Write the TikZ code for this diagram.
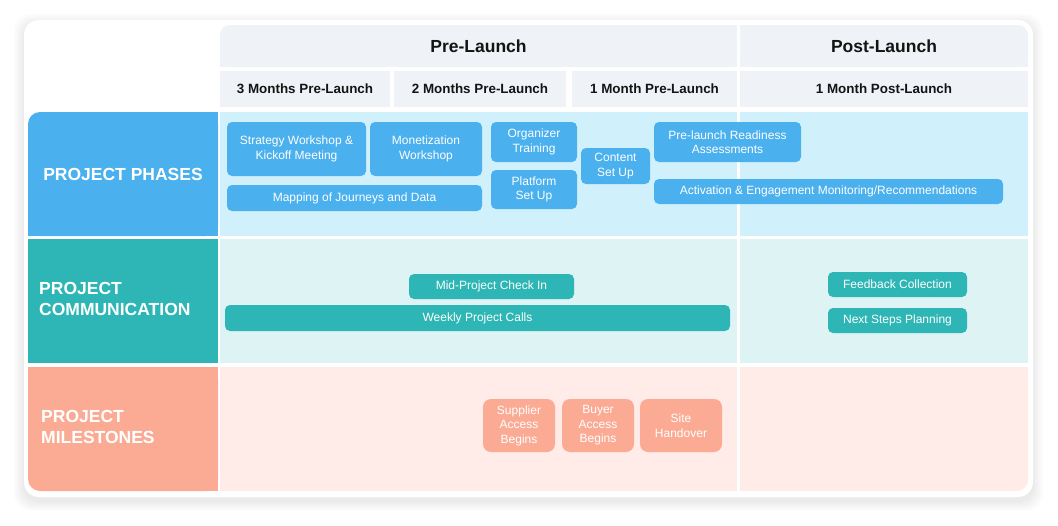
\documentclass[tikz,border=0pt]{standalone}
\usepackage{fontspec}
\setmainfont{Liberation Sans}
\definecolor{headbg}{RGB}{239,243,247}
\definecolor{phaseblue}{RGB}{74,176,238}
\definecolor{phasebg}{RGB}{208,241,251}
\definecolor{commteal}{RGB}{45,182,181}
\definecolor{commbg}{RGB}{222,243,244}
\definecolor{mileorange}{RGB}{251,170,148}
\definecolor{milebg}{RGB}{255,236,232}
\definecolor{headtext}{RGB}{20,20,20}
\begin{document}
\begin{tikzpicture}[x=1pt, y=-1pt,
		task/.style={rounded corners=5pt, inner sep=0pt, text=white, align=center, font=\fontsize{12}{14.5}\selectfont},
		rowlabel/.style={text=white, inner sep=0pt, align=left, font=\fontsize{17.5}{21}\selectfont\bfseries},
		period/.style={text=headtext, inner sep=0pt, font=\fontsize{17.5}{21}\selectfont\bfseries},
		month/.style={text=headtext, inner sep=0pt, font=\fontsize{13.4}{16}\selectfont\bfseries}]
		\useasboundingbox (0,0) rectangle (1058,525);
		\foreach \s in {1,...,10}
		{
			\fill[black, opacity=0.008, rounded corners=16pt] (24-\s, 24-\s) rectangle (1033+\s, 501+\s);
		}
		\fill[white, rounded corners=15pt] (24,20) rectangle (1033,497);
		
		\fill[headbg, rounded corners=10pt] (220,25) rectangle (737,67);
		\fill[headbg] (240,25) rectangle (737,67);
		\fill[headbg] (220,45) rectangle (737,67);
		\fill[headbg, rounded corners=10pt] (740,25) rectangle (1028,67);
		\fill[headbg] (740,25) rectangle (1008,67);
		\fill[headbg] (740,45) rectangle (1028,67);
		\node[period] (pre) at (478.5,46) {Pre-Launch};
		\node[period] (post) at (884,46) {Post-Launch};
		\foreach \a/\b/\nm/\txt in {220/390/m3/3 Months Pre-Launch, 394/566/m2/2 Months Pre-Launch, 572/737/m1/1 Month Pre-Launch, 740/1028/p1/1 Month Post-Launch}
		{
			\fill[headbg] (\a,71) rectangle (\b,107);
			\node[month] (\nm) at ({(\a+\b)/2},89) {\txt};
		}
		
		\foreach \t/\b/\bg in {112/236/phasebg, 239/363/commbg}
		{
			\fill[\bg] (220,\t) rectangle (737,\b);
			\fill[\bg] (740,\t) rectangle (1028,\b);
		}
		\fill[milebg] (220,367) rectangle (737,491);
		\fill[milebg, rounded corners=11pt] (740,367) rectangle (1028,491);
		\fill[milebg] (740,367) rectangle (1008,491);
		\fill[milebg] (740,367) rectangle (1028,470);
		
		\fill[phaseblue, rounded corners=12pt] (28,112) rectangle (218,236);
		\fill[phaseblue] (50,112) rectangle (218,236);
		\fill[phaseblue] (28,135) rectangle (218,236);
		\fill[commteal] (28,239) rectangle (218,363);
		\fill[mileorange, rounded corners=12pt] (28,367) rectangle (218,491);
		\fill[mileorange] (50,367) rectangle (218,491);
		\fill[mileorange] (28,367) rectangle (218,470);
		\node[rowlabel] (phases) at (123,174) {PROJECT PHASES};
		\node[rowlabel, anchor=west] (comm) at (39,299) {PROJECT\\COMMUNICATION};
		\node[rowlabel, anchor=west] (miles) at (41,427) {PROJECT\\MILESTONES};
		
		\foreach \nm/\cx/\cy/\w/\h/\txt in {strategy/296.5/149/139/54/{Strategy Workshop \&\\Kickoff Meeting}, monetization/426/149/112/54/{Monetization\\Workshop}, mapping/354.5/198/255/26/{Mapping of Journeys and Data}, organizer/534/142/86/40/{Organizer\\Training}, platform/534/189.5/86/39/{Platform\\Set Up}, content/615.5/166/69/36/{Content\\Set Up}, readiness/727.5/142/147/40/{Pre-launch Readiness\\Assessments}, activation/828.5/191.5/349/25/{Activation \& Engagement Monitoring/Recommendations}}
		{
			\node[task, fill=phaseblue, minimum width=\w pt, minimum height=\h pt] (\nm) at (\cx,\cy) {\txt};
		}
		\foreach \nm/\cx/\cy/\w/\h/\txt in {checkin/491.5/286.5/165/25/{Mid-Project Check In}, weekly/477.5/318/505/26/{Weekly Project Calls}, feedback/897.5/284.5/139/25/{Feedback Collection}, nextsteps/897.5/320.5/139/25/{Next Steps Planning}}
		{
			\node[task, fill=commteal, minimum width=\w pt, minimum height=\h pt] (\nm) at (\cx,\cy) {\txt};
		}
		\foreach \nm/\cx/\w/\txt in {supplier/519/72/{Supplier\\Access\\Begins}, buyer/598/72/{Buyer\\Access\\Begins}, handover/681/82/{Site\\Handover}}
		{
			\node[task, rounded corners=8pt, fill=mileorange, minimum width=\w pt, minimum height=53pt] (\nm) at (\cx,425.5) {\txt};
		}
	\end{tikzpicture}
\end{document}
